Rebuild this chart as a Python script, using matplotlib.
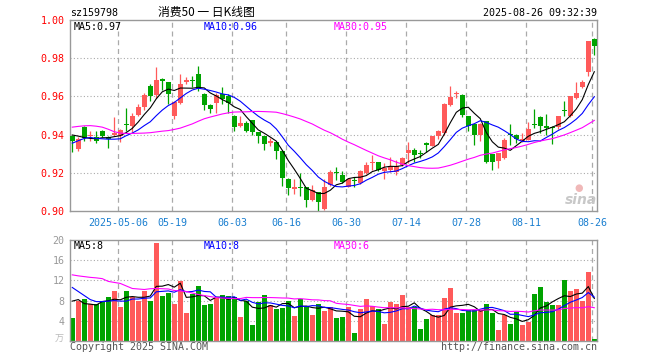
import matplotlib
matplotlib.use("Agg")
import matplotlib.pyplot as plt
import numpy as np
import pandas as pd

# ---------------- data ----------------
opens = [0.9391, 0.9324, 0.9441, 0.9391, 0.9388, 0.9421, 0.9388, 0.9400, 0.9394, 0.9455,
         0.9444, 0.9505, 0.9544, 0.9655, 0.9605, 0.9687, 0.9674, 0.9497, 0.9566, 0.9678,
         0.9685, 0.9717, 0.9615, 0.9555, 0.9564, 0.9611, 0.9600, 0.9500, 0.9444, 0.9462,
         0.9474, 0.9412, 0.9391, 0.9358, 0.9361, 0.9315, 0.9170, 0.9117, 0.9124, 0.9124,
         0.9057, 0.9100, 0.9013, 0.9136, 0.9203, 0.9188, 0.9127, 0.9162, 0.9145, 0.9197,
         0.9253, 0.9254, 0.9210, 0.9215, 0.9206, 0.9241, 0.9303, 0.9321, 0.9301, 0.9356,
         0.9342, 0.9391, 0.9409, 0.9553, 0.9612, 0.9606, 0.9497, 0.9453, 0.9400, 0.9470,
         0.9298, 0.9263, 0.9280, 0.9402, 0.9400, 0.9365, 0.9374, 0.9455, 0.9493, 0.9440,
         0.9437, 0.9439, 0.9529, 0.9497, 0.9594, 0.9647, 0.9728, 0.9900]
highs = [0.9400, 0.9386, 0.9445, 0.9418, 0.9420, 0.9425, 0.9392, 0.9490, 0.9430, 0.9541,
         0.9515, 0.9559, 0.9617, 0.9665, 0.9752, 0.9697, 0.9678, 0.9576, 0.9717, 0.9700,
         0.9708, 0.9761, 0.9620, 0.9558, 0.9620, 0.9647, 0.9610, 0.9502, 0.9497, 0.9470,
         0.9476, 0.9415, 0.9395, 0.9382, 0.9363, 0.9318, 0.9172, 0.9170, 0.9200, 0.9126,
         0.9136, 0.9102, 0.9170, 0.9215, 0.9230, 0.9210, 0.9170, 0.9176, 0.9215, 0.9259,
         0.9294, 0.9258, 0.9250, 0.9285, 0.9268, 0.9283, 0.9361, 0.9330, 0.9321, 0.9361,
         0.9395, 0.9425, 0.9567, 0.9655, 0.9629, 0.9610, 0.9498, 0.9455, 0.9460, 0.9472,
         0.9300, 0.9305, 0.9382, 0.9453, 0.9405, 0.9409, 0.9467, 0.9532, 0.9495, 0.9506,
         0.9444, 0.9500, 0.9576, 0.9602, 0.9673, 0.9687, 0.9890, 0.9905]
lows = [0.9309, 0.9315, 0.9365, 0.9365, 0.9356, 0.9388, 0.9330, 0.9395, 0.9362, 0.9418,
        0.9412, 0.9497, 0.9530, 0.9578, 0.9590, 0.9631, 0.9560, 0.9480, 0.9560, 0.9664,
        0.9647, 0.9630, 0.9527, 0.9514, 0.9515, 0.9558, 0.9514, 0.9418, 0.9440, 0.9415,
        0.9400, 0.9356, 0.9317, 0.9338, 0.9273, 0.9133, 0.9085, 0.9090, 0.9080, 0.9022,
        0.9050, 0.9002, 0.9005, 0.9130, 0.9162, 0.9145, 0.9125, 0.9127, 0.9143, 0.9195,
        0.9215, 0.9210, 0.9167, 0.9206, 0.9189, 0.9236, 0.9250, 0.9259, 0.9277, 0.9308,
        0.9340, 0.9377, 0.9400, 0.9550, 0.9594, 0.9492, 0.9418, 0.9347, 0.9365, 0.9249,
        0.9215, 0.9224, 0.9270, 0.9347, 0.9356, 0.9360, 0.9370, 0.9435, 0.9409, 0.9400,
        0.9351, 0.9430, 0.9497, 0.9493, 0.9585, 0.9645, 0.9705, 0.9816]
closes = [0.9365, 0.9377, 0.9382, 0.9400, 0.9368, 0.9391, 0.9377, 0.9410, 0.9426, 0.9450,
          0.9500, 0.9545, 0.9605, 0.9600, 0.9687, 0.9683, 0.9615, 0.9570, 0.9664, 0.9685,
          0.9680, 0.9638, 0.9555, 0.9532, 0.9606, 0.9585, 0.9564, 0.9440, 0.9462, 0.9418,
          0.9412, 0.9391, 0.9352, 0.9362, 0.9312, 0.9173, 0.9122, 0.9124, 0.9120, 0.9056,
          0.9110, 0.9048, 0.9126, 0.9203, 0.9199, 0.9153, 0.9166, 0.9157, 0.9210, 0.9241,
          0.9257, 0.9215, 0.9224, 0.9233, 0.9236, 0.9280, 0.9321, 0.9291, 0.9298, 0.9343,
          0.9391, 0.9421, 0.9559, 0.9597, 0.9615, 0.9502, 0.9444, 0.9400, 0.9456, 0.9254,
          0.9259, 0.9303, 0.9374, 0.9398, 0.9377, 0.9377, 0.9430, 0.9450, 0.9444, 0.9437,
          0.9433, 0.9497, 0.9525, 0.9600, 0.9617, 0.9677, 0.9890, 0.9862]
volumes = [4.5, 8.0, 8.3, 7.4, 7.4, 8.0, 8.7, 9.9, 6.8, 9.9,
           8.7, 8.0, 9.9, 8.0, 19.5, 8.9, 9.6, 7.3, 11.9, 5.5,
           9.4, 10.9, 7.1, 7.3, 8.7, 9.1, 9.0, 8.7, 4.7, 8.0,
           3.1, 7.8, 9.1, 7.2, 6.3, 6.6, 8.0, 4.9, 8.4, 6.7,
           5.1, 7.3, 6.0, 6.8, 4.6, 4.8, 6.7, 1.6, 6.3, 8.3,
           7.0, 6.3, 3.4, 7.8, 7.3, 9.2, 6.7, 6.8, 2.3, 4.3,
           5.1, 5.1, 8.5, 10.5, 5.6, 5.6, 6.1, 6.1, 6.1, 7.3,
           5.6, 2.1, 5.1, 3.3, 5.8, 3.1, 3.8, 9.3, 10.7, 7.8,
           7.1, 7.1, 12.1, 9.9, 10.3, 8.0, 13.6, 0.3]

# moving-average values at the start of the window (read from the chart,
# they depend on days before the first candle)
ma5_head = [0.9398, 0.9392, 0.9385, 0.9380]
ma10_head = [0.9355, 0.9368, 0.9380, 0.9385, 0.9380, 0.9378, 0.9376, 0.9376, 0.9378]
ma30_head = [0.9439, 0.9443, 0.9446, 0.9447, 0.9444, 0.9439, 0.9428, 0.9415, 0.9408, 0.9406,
             0.9406, 0.9407, 0.9408, 0.9410, 0.9414, 0.9418, 0.9421, 0.9427, 0.9434, 0.9445,
             0.9456, 0.9470, 0.9483, 0.9492, 0.9500, 0.9508, 0.9514, 0.9518, 0.9519]
vma5_head = [7.9, 8.2, 7.4, 7.3]
vma10_head = [10.6, 9.8, 9.0, 8.2, 7.8, 7.8, 7.9, 8.0, 7.9]
vma30_head = [13.1, 12.9, 12.75, 12.6, 12.5, 12.35, 11.8, 11.6, 11.4, 10.9,
              10.4, 10.3, 10.2, 10.35, 10.4, 10.35, 10.3, 10.0, 9.9, 9.8,
              9.5, 9.2, 9.0, 8.8, 8.6, 8.5, 8.45, 8.4, 8.4]

tick_idx = [8, 17, 27, 36, 46, 56, 66, 76, 87]
tick_labels = ["2025-05-06", "05-19", "06-03", "06-16", "06-30", "07-14", "07-28", "08-11", "08-26"]
price_ticks = [0.90, 0.92, 0.94, 0.96, 0.98, 1.00]
vol_ticks = [4, 8, 12, 16, 20]

code_text = "sz159798"
title_text = "消费50 一 日K线图"
time_text = "2025-08-26 09:32:39"
ma_price_labels = ["MA5:0.97", "MA10:0.96", "MA30:0.95"]
ma_vol_labels = ["MA5:8", "MA10:8", "MA30:6"]

# ---------------- styling ----------------
RED = "#ff5a5a"
GREEN = "#00a300"
MA_COLORS = ["#000000", "#0000ff", "#ff00ff"]
GRID = "#aaaaaa"
FRAME = "#999999"
MONO = ["DejaVu Sans Mono"]
CJK = ["Noto Sans CJK SC", "DejaVu Sans"]

W, H = 660, 360


def ma(values, n, head):
    s = pd.Series(values).rolling(n).mean().to_numpy()
    s[:len(head)] = head
    return s


o = np.array(opens); c = np.array(closes)
hi = np.array(highs); lo = np.array(lows)
vol = np.array(volumes)
x = np.arange(len(o))
up = c >= o
cols = np.where(up, RED, GREEN)

fig = plt.figure(figsize=(W / 100, H / 100), dpi=100)
ax = fig.add_axes([70 / W, 1 - 211 / H, 527 / W, 191 / H])
axv = fig.add_axes([70 / W, 1 - 341 / H, 527 / W, 101 / H])

xlim = (-0.38, len(o) - 1 + 0.45)

# price panel
for yv in price_ticks[1:-1]:
    ax.axhline(yv, color=GRID, lw=0.8, ls=(0, (1, 2)), zorder=0)
for t in tick_idx:
    ax.axvline(t - 0.3, color=GRID, lw=0.9, ls=(0, (4, 3)), zorder=0)
ax.vlines(x, lo, hi, colors=cols, lw=0.9, zorder=2)
body_h = np.maximum(np.abs(c - o), 0.0006)
ax.bar(x, body_h, bottom=np.minimum(o, c), width=0.8, color=cols, lw=0, zorder=3)
for vals, n, head, col in [(c, 5, ma5_head, MA_COLORS[0]), (c, 10, ma10_head, MA_COLORS[1]),
                           (c, 30, ma30_head, MA_COLORS[2])]:
    ax.plot(x, ma(vals, n, head), color=col, lw=0.8, zorder=4)
ax.set_xlim(*xlim)
ax.set_ylim(0.90, 1.00)
ax.set_yticks(price_ticks)
ax.set_yticklabels([f"{v:.2f}" for v in price_ticks], color="#ff0000", family=MONO, fontsize=7.2)
ax.set_xticks([t - 0.3 for t in tick_idx])
ax.set_xticklabels(tick_labels, color="#1a7fd0", family=MONO, fontsize=7.2)
ax.tick_params(axis="both", length=0)
ax.tick_params(axis="y", pad=4)
ax.tick_params(axis="x", pad=5)
for s in ax.spines.values():
    s.set_color(FRAME)
    s.set_linewidth(1.0)

# volume panel
for yv in vol_ticks[:-1]:
    axv.axhline(yv, color=GRID, lw=0.8, ls=(0, (1, 2)), zorder=0)
for t in tick_idx:
    axv.axvline(t - 0.3, color=GRID, lw=0.9, ls=(0, (4, 3)), zorder=0)
axv.bar(x, vol, width=0.8, color=cols, lw=0, zorder=2)
for n, head, col in [(5, vma5_head, MA_COLORS[0]), (10, vma10_head, MA_COLORS[1]),
                     (30, vma30_head, MA_COLORS[2])]:
    axv.plot(x, ma(vol, n, head), color=col, lw=0.8, zorder=4)
axv.set_xlim(*xlim)
axv.set_ylim(0, 20)
axv.set_yticks(vol_ticks)
axv.set_yticklabels([str(v) for v in vol_ticks], color="#999999", family=MONO, fontsize=7.2)
axv.set_xticks([])
axv.tick_params(axis="both", length=0)
axv.tick_params(axis="y", pad=4)
for s in axv.spines.values():
    s.set_color(FRAME)
    s.set_linewidth(1.0)


def ftext(px, py, s, **kw):
    fig.text(px / W, 1 - py / H, s, **kw)


ftext(70, 12.5, code_text, family=MONO, fontsize=7.2, va="center", ha="left", color="#000000")
ftext(206, 12.5, title_text, family=CJK, fontsize=8.5, va="center", ha="center", color="#000000")
ftext(597, 12.5, time_text, family=MONO, fontsize=7.2, va="center", ha="right", color="#000000")

for px, lab, col in zip([74, 204, 334], ma_price_labels, MA_COLORS):
    ftext(px, 26.5, lab, family=MONO, fontsize=7.2, va="center", ha="left", color=col)
for px, lab, col in zip([74, 204, 334], ma_vol_labels, MA_COLORS):
    ftext(px, 246, lab, family=MONO, fontsize=7.2, va="center", ha="left", color=col)

ftext(70, 346.5, "Copyright 2025 SINA.COM", family=MONO, fontsize=7.2, va="center", ha="left", color="#555555")
ftext(597, 346.5, "http://finance.sina.com.cn", family=MONO, fontsize=7.2, va="center", ha="right", color="#555555")
ftext(64, 339, "万", family=CJK, fontsize=6.5, va="center", ha="right", color="#bbbbbb")

# sina watermark
ftext(581, 200, "sina", family=["DejaVu Sans"], fontsize=10, fontweight="bold", style="italic",
      va="center", ha="center", color="#c8c8c8")
ftext(579, 188, "●", family=["DejaVu Sans"], fontsize=7, va="center", ha="center", color="#f0b8b8")

fig.savefig("out.png", dpi=100)
